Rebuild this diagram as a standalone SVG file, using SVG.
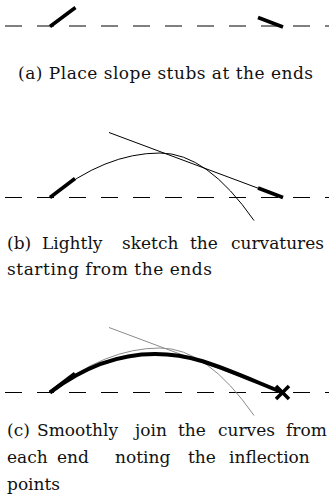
<svg xmlns="http://www.w3.org/2000/svg" width="329" height="503" viewBox="0 0 329 503">
<style>
.dash{stroke:#000;stroke-width:1;stroke-dasharray:17 15;fill:none}
.stub{stroke:#000;stroke-width:3.5;stroke-linecap:butt;fill:none}
.thin{stroke:#000;stroke-width:1;fill:none}
.light{stroke:#8c8c8c;stroke-width:1;fill:none}
.bold{stroke:#000;stroke-width:4;fill:none;stroke-linejoin:round}
.cap{font-family:"DejaVu Serif","Liberation Serif",serif;font-size:17px;fill:#111}
</style>
<rect width="329" height="503" fill="#fff"/>
<g id="panel-a" transform="translate(0,26)">
  <line class="dash" x1="5" y1="0" x2="329" y2="0"/>
  <line class="stub" x1="50" y1="0.5" x2="75.5" y2="-18.5"/>
  <line class="stub" x1="258" y1="-8.5" x2="283" y2="1"/>
</g>
<text id="caption-a" class="cap" x="165.5" y="78.5" text-anchor="middle" textLength="295" lengthAdjust="spacing">(a) Place slope stubs at the ends</text>
<g id="panel-b" transform="translate(0,197.5)">
  <line class="dash" x1="5" y1="0" x2="329" y2="0"/>
  <line class="thin" x1="109" y1="-65" x2="283" y2="0"/>
  <path class="thin" d="M50,0 Q105,-44.5 160,-44.5 Q207,-44.5 254,23"/>
  <line class="stub" x1="50" y1="0" x2="75" y2="-19"/>
  <line class="stub" x1="258" y1="-9.5" x2="283" y2="0"/>
</g>
<text id="caption-b" class="cap" y="248.5"><tspan x="7">(b)</tspan><tspan x="42">Lightly</tspan><tspan x="122">sketch</tspan><tspan x="190">the</tspan><tspan x="231">curvatures</tspan></text>
<text class="cap" x="7" y="274.5" textLength="205" lengthAdjust="spacing">starting from the ends</text>
<g id="panel-c" transform="translate(0,392.5)">
  <line class="dash" x1="5" y1="0" x2="329" y2="0"/>
  <line class="light" x1="109" y1="-65" x2="283" y2="0"/>
  <path class="light" d="M50,0 Q105,-44.5 160,-44.5 Q207,-44.5 254,23"/>
  <line class="bold" x1="50" y1="0" x2="75" y2="-19"/>
  <path class="bold" d="M50,0 C80,-22.8 115,-38.5 155,-38.5 C195,-38.5 220,-25.5 282.5,0"/>
  <path class="stub" stroke-width="3" d="M276,-6.5 L289,6.5 M276,6.5 L289,-6.5"/>
</g>
<text id="caption-c" class="cap" y="436"><tspan x="7">(c)</tspan><tspan x="37">Smoothly</tspan><tspan x="135">join</tspan><tspan x="178">the</tspan><tspan x="218">curves</tspan><tspan x="286">from</tspan></text>
<text class="cap" y="463"><tspan x="7">each</tspan><tspan x="57">end</tspan><tspan x="115">noting</tspan><tspan x="188">the</tspan><tspan x="229">inflection</tspan></text>
<text class="cap" x="7" y="490">points</text>
</svg>
